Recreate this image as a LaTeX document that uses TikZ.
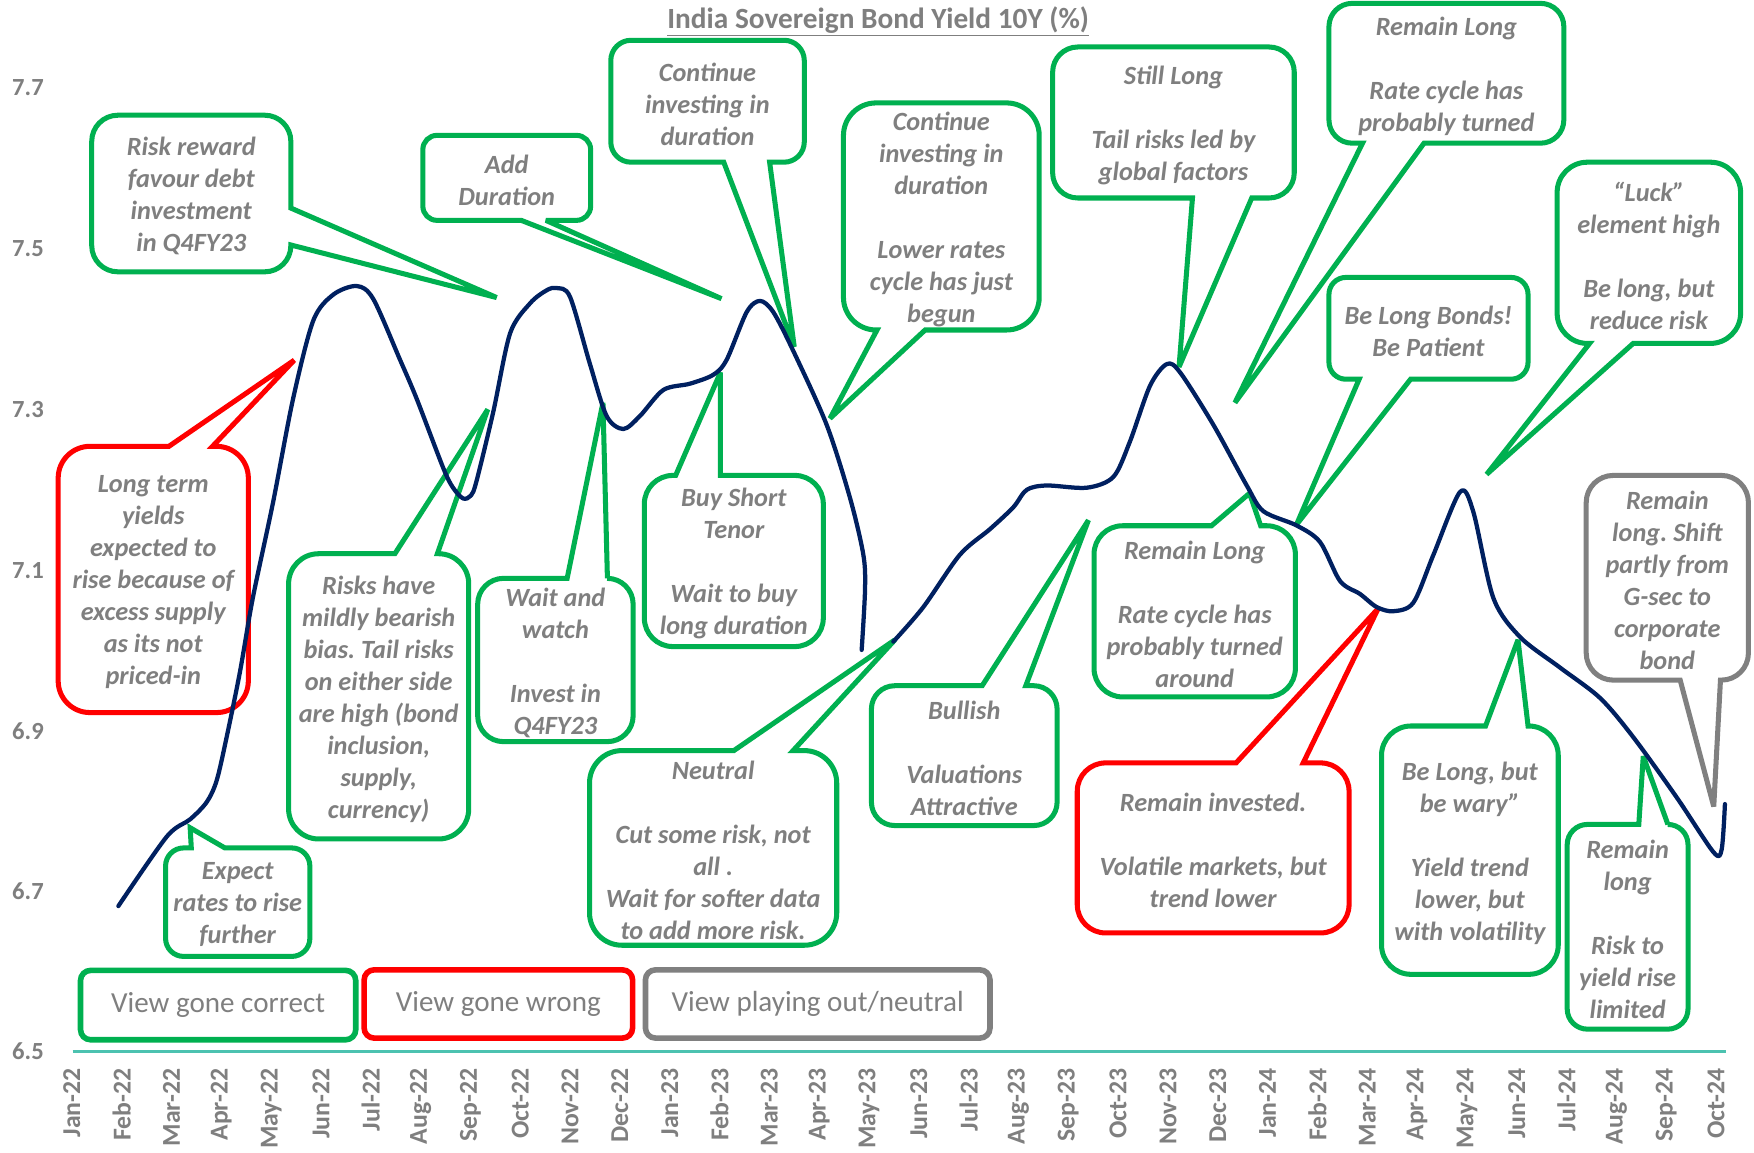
\documentclass[tikz,border=0pt]{standalone}
\usepackage{fontspec}
\setmainfont{Carlito}
\frenchspacing
\definecolor{cgreen}{HTML}{00B050}
\definecolor{cred}{HTML}{FF0000}
\definecolor{cgray}{HTML}{808080}
\definecolor{tgray}{HTML}{7F7F7F}
\definecolor{navy}{HTML}{002060}
\definecolor{axisteal}{HTML}{4CC2B0}
\tikzset{
  ctext/.style={align=center, inner sep=0pt, yshift=-2.5pt, text=tgray, font=\fontsize{23.5}{28.6}\selectfont\bfseries\itshape\frenchspacing},
  cline/.style={line width=4.5pt, fill=white, line join=miter, miter limit=3},
  legbox/.style={draw, line width=5pt, rounded corners=9pt, fill=white, text=tgray, font=\fontsize{26}{30}\selectfont, inner sep=0pt},
  ylab/.style={text=tgray, font=\fontsize{22}{26}\selectfont\bfseries, inner sep=0pt},
  xlab/.style={text=tgray, font=\fontsize{23}{26}\selectfont\bfseries, inner sep=0pt, rotate=90, anchor=east},
  curve/.style={navy, line width=3.8pt, line cap=round, line join=round},
}
\def\coGetBox#1,#2,#3,#4\relax{\def\coL{#1}\def\coT{#2}\def\coR{#3}\def\coB{#4}}
\def\coGetPair#1,#2\relax{\def\coA{#1}\def\coBB{#2}}
\def\coGetTip#1,#2\relax{\def\coTX{#1}\def\coTY{#2}}
\newcommand\callout[7]{%
  \coGetBox#2\relax \coGetPair#4\relax \coGetTip#5\relax
  \pgfmathsetmacro\coRad{0.1667*min(\coR-\coL,\coB-\coT)}%
  \pgfmathsetmacro\coK{0.448*\coRad}%
  \pgfmathsetmacro\xLr{\coL+\coRad}\pgfmathsetmacro\xLk{\coL+\coK}%
  \pgfmathsetmacro\xRr{\coR-\coRad}\pgfmathsetmacro\xRk{\coR-\coK}%
  \pgfmathsetmacro\yTr{\coT+\coRad}\pgfmathsetmacro\yTk{\coT+\coK}%
  \pgfmathsetmacro\yBr{\coB-\coRad}\pgfmathsetmacro\yBk{\coB-\coK}%
  \def\pTop{}\def\pRight{}\def\pBot{}\def\pLeft{}%
  \if#3t\def\pTop{-- (\coA,\coT) -- (\coTX,\coTY) -- (\coBB,\coT)}\fi
  \if#3r\def\pRight{-- (\coR,\coA) -- (\coTX,\coTY) -- (\coR,\coBB)}\fi
  \if#3b\def\pBot{-- (\coBB,\coB) -- (\coTX,\coTY) -- (\coA,\coB)}\fi
  \if#3l\def\pLeft{-- (\coL,\coBB) -- (\coTX,\coTY) -- (\coL,\coA)}\fi
  \draw[cline, draw=#1] (\xLr,\coT) \pTop -- (\xRr,\coT) .. controls (\xRk,\coT) and (\coR,\yTk) .. (\coR,\yTr) \pRight -- (\coR,\yBr) .. controls (\coR,\yBk) and (\xRk,\coB) .. (\xRr,\coB) \pBot -- (\xLr,\coB) .. controls (\xLk,\coB) and (\coL,\yBk) .. (\coL,\yBr) \pLeft -- (\coL,\yTr) .. controls (\coL,\yTk) and (\xLk,\coT) .. (\xLr,\coT) -- cycle;
  \pgfmathsetmacro\coCX{(\coL+\coR)/2}\pgfmathsetmacro\coCY{(\coT+\coB)/2}%
  \node[ctext] (#6) at (\coCX,\coCY) {#7};
}
\begin{document}
\begin{tikzpicture}[x=1pt, y=-1pt]
\useasboundingbox (0,0) rectangle (1568,1030);
\fill[white] (0,0) rectangle (1568,1030);

% title
\node[text=tgray, font=\fontsize{26.2}{30}\selectfont\bfseries, inner sep=0pt] (title) at (785,19) {\underline{India Sovereign Bond Yield 10Y (\%)}};

% y labels
\foreach \v/\yy [count=\j] in {7.7/78, 7.5/222, 7.3/366, 7.1/510, 6.9/654, 6.7/797, 6.5/940}
  \node[ylab] (y\j) at (25,\yy) {\v};

% x labels
\foreach \lab [count=\i from 0] in {Jan-22,Feb-22,Mar-22,Apr-22,May-22,Jun-22,Jul-22,Aug-22,Sep-22,Oct-22,Nov-22,Dec-22,Jan-23,Feb-23,Mar-23,Apr-23,May-23,Jun-23,Jul-23,Aug-23,Sep-23,Oct-23,Nov-23,Dec-23,Jan-24,Feb-24,Mar-24,Apr-24,May-24,Jun-24,Jul-24,Aug-24,Sep-24,Oct-24}
  \node[xlab] (x\i) at ({64.2+44.54*\i},955) {\lab};

% axis
\draw[axisteal, line width=3pt] (65,940) -- (1543,940);

% legend
\node[legbox, draw=cgreen, minimum width=246pt, minimum height=62pt] (lg1) at (195,898.5) {View gone correct};
\node[legbox, draw=cred, minimum width=240pt, minimum height=61pt] (lg2) at (445.5,897.5) {View gone wrong};
\node[legbox, draw=cgray, minimum width=308pt, minimum height=61pt] (lg3) at (731,897.5) {View playing out/neutral};

% callouts
\callout{cgreen}{82,103,260,243}{r}{186,219}{444,266}{c1}{Risk reward\\favour debt\\investment\\in Q4FY23}
\callout{cgreen}{378,121,528,197}{b}{466,488}{645,267}{c2}{Add\\Duration}
\callout{cgreen}{546,36,719,145}{b}{647,688}{710,310}{c3}{Continue\\investing in\\duration}
\callout{cgreen}{754,92,929,295}{b}{784,827}{742,374}{c4}{Continue\\investing in\\duration\\[28.6pt]Lower rates\\cycle has just\\begun}
\callout{cgreen}{941,42,1157,177}{b}{1066,1119}{1054,328}{c5}{Still Long\\[28.6pt]Tail risks led by\\global factors}
\callout{cgreen}{1188,3,1398,128}{b}{1218,1273}{1104,360}{c6}{Remain Long\\[28.6pt]Rate cycle has\\probably turned}
\callout{cgreen}{1392,145,1556,307}{b}{1421,1460}{1329,424}{c7}{“Luck”\\element high\\[28.6pt]Be long, but\\reduce risk}
\callout{cgreen}{1188,248,1366,339}{b}{1215,1261}{1159,469}{c8}{Be Long Bonds!\\Be Patient}
\callout{cred}{52,399,222,637}{t}{151,190}{263,322}{c9}{Long term\\yields\\expected to\\rise because of\\excess supply\\as its not\\priced-in}
\callout{cgreen}{148,758,277,855}{t}{171,201}{170,740}{c10}{Expect\\rates to rise\\further}
\callout{cgreen}{258,495,419,750}{t}{353,391}{436,366}{c11}{Risks have\\mildly bearish\\bias. Tail risks\\on either side\\are high (bond\\inclusion,\\supply,\\currency)}
\callout{cgreen}{427,517,566,663}{t}{507,543}{539,360}{c12}{Wait and\\watch\\[28.6pt]Invest in\\Q4FY23}
\callout{cgreen}{576,425,736,578}{t}{604,644}{644,333}{c13}{Buy Short\\Tenor\\[28.6pt]Wait to buy\\long duration}
\callout{cgreen}{527,671,748,845}{t}{656,709}{800,572}{c14}{Neutral\\[28.6pt]Cut some risk, not\\all .\\Wait for softer data\\to add more risk.}
\callout{cgreen}{779,613,945,738}{t}{878,917}{973,465}{c15}{Bullish\\[28.6pt]Valuations\\Attractive}
\callout{cgreen}{978,470,1158,623}{t}{1083,1127}{1117,441}{c16}{Remain Long\\[28.6pt]Rate cycle has\\probably turned\\around}
\callout{cred}{963,682,1206,834}{t}{1105,1165}{1232,544}{c17}{Remain invested.\\[28.6pt]Volatile markets, but\\trend lower}
\callout{cgreen}{1235,649,1393,871}{t}{1328,1366}{1357,572}{c18}{Be Long, but\\be wary”\\[28.6pt]Yield trend\\lower, but\\with volatility}
\callout{cgreen}{1401,737,1509,920}{t}{1465,1491}{1469,676}{c19}{Remain\\long\\[28.6pt]Risk to\\yield rise\\limited}
\callout{cgray}{1418,425,1563,608}{b}{1502,1538}{1532,721}{c20}{Remain\\long. Shift\\partly from\\G-sec to\\corporate\\bond}

% yield curve
\draw[curve] plot[smooth, tension=0.5] coordinates {(105.8,810) (149,748) (169.9,732.5) (184.8,717) (193.7,697.7) (202.6,659) (214.5,600.7) (226,534.6) (244,449.6) (262,356.5) (280,286.7) (297.9,263.4) (318.9,255.7) (333.7,267.3) (357.6,321.6) (372.5,356.5) (396.3,418.5) (405,436) (414,445.6) (421,443) (426,430) (441,368) (456,298) (474,271) (488.7,259.5) (497.7,257.5) (509.6,265.4) (527.4,325.5) (542.3,371.9) (557.2,383.5) (572,372) (593,348.6) (616.8,343) (637.7,335) (649.6,321.6) (667.5,279) (679.4,269) (691.3,279) (709.2,313.8) (739,379.8) (760,445.6) (771.8,496) (773.3,527) (770.3,581)};
\draw[curve] plot[smooth, tension=0.5] coordinates {(798.6,573.6) (825.4,542.7) (858,496) (885,473) (905.9,453.4) (917.8,437.9) (935.7,434) (971.5,436) (995.3,426.3) (1010,395) (1028,345) (1043,325.5) (1055,333) (1084.7,379.8) (1114.5,434) (1129.4,457) (1159,469.7) (1180,484.5) (1198,519.5) (1215.8,531) (1230.7,542.7) (1245.6,546.4) (1263.5,538.7) (1281.4,496) (1305.2,439.8) (1317,457.3) (1335,534.6) (1358.9,569.5) (1394.6,596.8) (1430.4,624) (1460,658.9) (1499,713) (1531.7,761.7) (1539,759.7) (1542,718.8)};
\end{tikzpicture}
\end{document}
